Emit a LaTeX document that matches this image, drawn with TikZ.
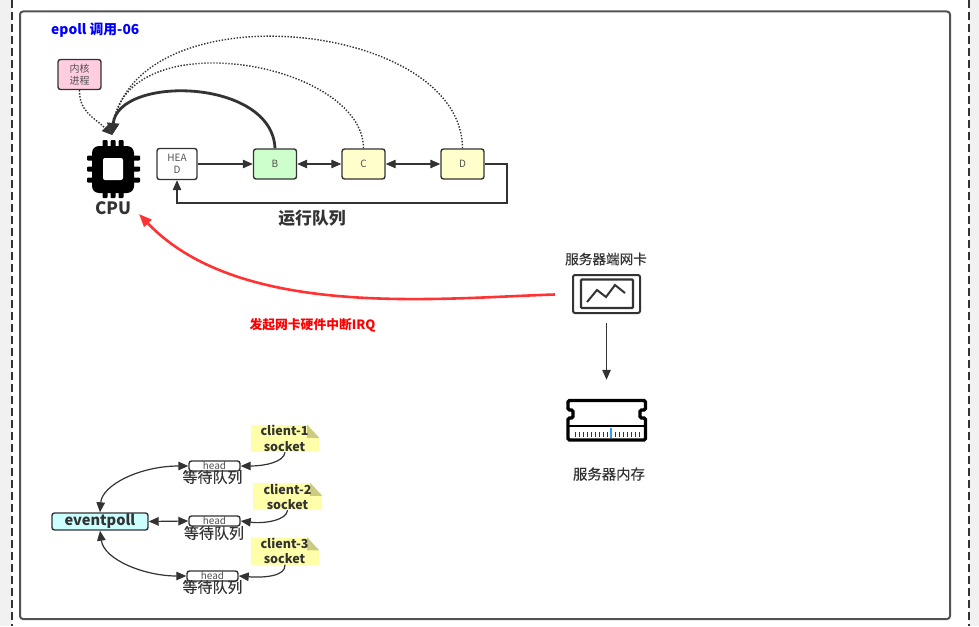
\documentclass[tikz,border=0pt]{standalone}
\usepackage{fontspec}
\setmainfont{Noto Sans CJK SC}
\newfontfamily\medfont[FakeBold=0.25]{Noto Sans CJK SC}
\usetikzlibrary{arrows.meta}
\definecolor{ink}{HTML}{333333}
\definecolor{side}{HTML}{F1F1F1}
\definecolor{pinkbox}{HTML}{FFCCE0}
\definecolor{greenbox}{HTML}{CCFFCC}
\definecolor{yellowbox}{HTML}{FFFFCC}
\definecolor{cyanbox}{HTML}{CCFFFF}
\definecolor{notey}{HTML}{FFFFAA}
\definecolor{fold}{HTML}{CCCC80}
\definecolor{redline}{HTML}{FF3333}
\definecolor{ticka}{HTML}{2F9BF0}
\tikzset{
  tip/.style={-{Triangle[length=10pt,width=8.5pt]}},
  tips/.style={{Triangle[length=10pt,width=8.5pt]}-{Triangle[length=10pt,width=8.5pt]}},
  link/.style={draw=ink,line width=1.2pt},
  dots/.style={draw=ink,line width=1.4pt,dash pattern=on 1.4pt off 1.6pt,tip},
  boxn/.style={draw=ink,line width=1.4pt,rounded corners=2.5pt,inner sep=0pt,align=center,text=ink!85,font=\fontsize{10}{12}\selectfont},
  qbox/.style={boxn,minimum width=43pt,minimum height=30pt},
  headbox/.style={boxn,fill=white,minimum width=51pt,minimum height=10pt,font=\fontsize{10}{10}\selectfont},
  notebox/.style={fill=notey,inner sep=0pt,minimum width=68pt,minimum height=27pt},
  notetext/.style={inner sep=0pt,align=center,text=ink,font=\bfseries\fontsize{12.5}{15.5}\selectfont},
  lab/.style={inner sep=0pt,text=ink},
  waitlab/.style={lab,font=\medfont\fontsize{15}{16}\selectfont},
  pin/.style={fill=black,rounded corners=1pt}
}
\newcommand{\foldcorner}[1]{%
  \fill[white] (#1.north east) ++(-12,0) -- ++(12,0) -- ++(0,13) -- cycle;
  \fill[fold] (#1.north east) ++(-12,0) -- ++(12,13) -- ++(-12,0) -- cycle;
}
\begin{document}
\begin{tikzpicture}[x=1pt,y=-1pt]
\useasboundingbox (0,0) rectangle (979,626);
\fill[side] (0,0) rectangle (979,626);
\fill[white] (12,0) rectangle (969,626);
\draw[black!80,line width=2pt,dash pattern=on 8pt off 4pt] (12,0) -- (12,626);
\draw[black!80,line width=1.6pt,dash pattern=on 8pt off 4pt] (969,0) -- (969,626);
\draw[ink!85,line width=2pt,rounded corners=3pt] (20,11.5) rectangle (950,619);

\node[anchor=west,inner sep=0pt,text=blue,font=\bfseries\fontsize{13.8}{16}\selectfont] (title) at (51,30) {epoll 调用-06};

% CPU icon
\foreach \p in {105,113,121}{
  \fill[pin] (\p-2.5,140) rectangle (\p+2.5,198);
}
\foreach \p in {158,169,180}{
  \fill[pin] (87,\p-2.5) rectangle (140,\p+2.5);
}
\node[fill=black,rounded corners=7pt,minimum width=42pt,minimum height=47pt,inner sep=0pt] (cpu) at (113,169.5) {};
\node[fill=white,rounded corners=2pt,minimum width=20pt,minimum height=22pt,inner sep=0pt] (cpucore) at (113,169) {};
\node[lab,font=\bfseries\fontsize{17}{18}\selectfont] (cpulabel) at (113,208) {CPU};
\coordinate (cpuin) at (112,135);

\node[boxn,fill=pinkbox,minimum width=43pt,minimum height=30pt,font=\fontsize{10}{12}\selectfont] (kernel) at (79.5,74.5) {内核\\进程};
\node[qbox,fill=white,minimum width=40pt,minimum height=31pt] (headq) at (177,164) {HEA\\D};
\node[qbox,fill=greenbox] (b) at (275,164) {B};
\node[qbox,fill=yellowbox] (c) at (363.5,164) {C};
\node[qbox,fill=yellowbox] (d) at (462.5,164) {D};
\node[lab,font=\bfseries\fontsize{16.8}{18}\selectfont] (runq) at (312,218) {运行队列};

\draw[link,tip] (headq) -- (b);
\draw[link,tips] (b) -- (c);
\draw[link,tips] (c) -- (d);
\draw[link,tip] (d.east) -- (507,164) -- (507,203) -- (177,203) -- (headq.south);

\draw[dots] (kernel.south) .. controls (79,112) and (95,118) .. (cpuin);
\draw[dots] (c.north) .. controls (363,62) and (125,20) .. (cpuin);
\draw[dots] (d.north) .. controls (462,20) and (135,-12) .. (cpuin);
\draw[ink,line width=2.8pt,-{Triangle[length=12pt,width=12pt]}] (b.north) .. controls (272,78) and (118,75) .. (cpuin);

% Red interrupt
\coordinate (redend) at (139,214);
\node[inner sep=0pt,minimum width=0pt,minimum height=0pt] (redstart) at (555,294.5) {};
\draw[redline,line width=2.6pt,-{Triangle[length=13pt,width=10pt]}] (redstart) .. controls (440,298) and (240,320) .. (redend);
\node[lab,text=red,font=\bfseries\fontsize{12.8}{14}\selectfont] (irq) at (312.5,325) {发起网卡硬件中断IRQ};

% NIC
\node[lab,font=\medfont\fontsize{13.6}{14}\selectfont] (niclabel) at (606,259) {服务器端网卡};
\node[draw=ink,line width=2pt,rounded corners=2pt,minimum width=67pt,minimum height=38pt,inner sep=0pt] (nic) at (606.5,294) {};
\draw[ink,line width=2.2pt,rounded corners=1pt] (581,279.5) rectangle (633,308);
\draw[ink,line width=2pt] (587,302) -- (597,290) -- (606,297) -- (615,285) -- (625,293);

% RAM
\node[inner sep=0pt,minimum width=80pt,minimum height=42pt] (ram) at (606.5,420) {};
\draw[black,line width=3.4pt,rounded corners=1.5pt] (568,400.5) -- (645.5,400.5) -- (645.5,410) -- (640,410) -- (640,418) -- (645.5,418) -- (645.5,440) -- (568,440) -- (568,418) -- (573,418) -- (573,410) -- (568,410) -- cycle;
\draw[black,line width=1.8pt] (568,426) -- (645.5,426);
\foreach \t in {575,579,...,639}{
  \draw[ink,line width=.7pt] (\t,432) -- (\t,437);
}
\draw[ticka,line width=1.6pt] (611,427.5) -- (611,437.5);
\draw[link,tip,shorten <=9pt,shorten >=19pt] (nic.south) -- (ram.north);
\node[lab,font=\medfont\fontsize{14.4}{15}\selectfont] (ramlabel) at (609,474) {服务器内存};

% Eventpoll
\node[boxn,fill=cyanbox,text=ink,minimum width=96pt,minimum height=17pt,font=\bfseries\fontsize{14.6}{14}\selectfont] (ep) at (100,521.5) {eventpoll};
\node[headbox] (h1) at (214.5,466) {head};
\node[headbox] (h2) at (214.5,521) {head};
\node[headbox] (h3) at (212.5,576) {head};
\node[waitlab] (w1) at (212.5,477) {等待队列};
\node[waitlab] (w2) at (214,533) {等待队列};
\node[waitlab] (w3) at (212.5,587) {等待队列};

\node[notebox] (n1) at (285,438.5) {};
\node[notebox,minimum width=69pt] (n2) at (287.5,496.5) {};
\node[notebox] (n3) at (285,551) {};
\foldcorner{n1}\foldcorner{n2}\foldcorner{n3}
\node[notetext] (t1) at (284.5,438.5) {client-1\\socket};
\node[notetext] (t2) at (287.5,497) {client-2\\socket};
\node[notetext] (t3) at (284.5,551) {client-3\\socket};

\draw[link,tips] (ep.north) .. controls (102,485) and (140,466) .. (h1.west);
\draw[link,tips] (ep.east) -- (h2.west);
\draw[link,tips] (ep.south) .. controls (104,560) and (145,576) .. (h3.west);
\draw[link,tip] (n1.south) .. controls (284,462) and (265,466) .. (h1.east);
\draw[link,tip] (n2.south) .. controls (287,520) and (265,524) .. (h2.east);
\draw[link,tip] (n3.south) .. controls (286,576) and (265,578) .. (h3.east);
\end{tikzpicture}
\end{document}
